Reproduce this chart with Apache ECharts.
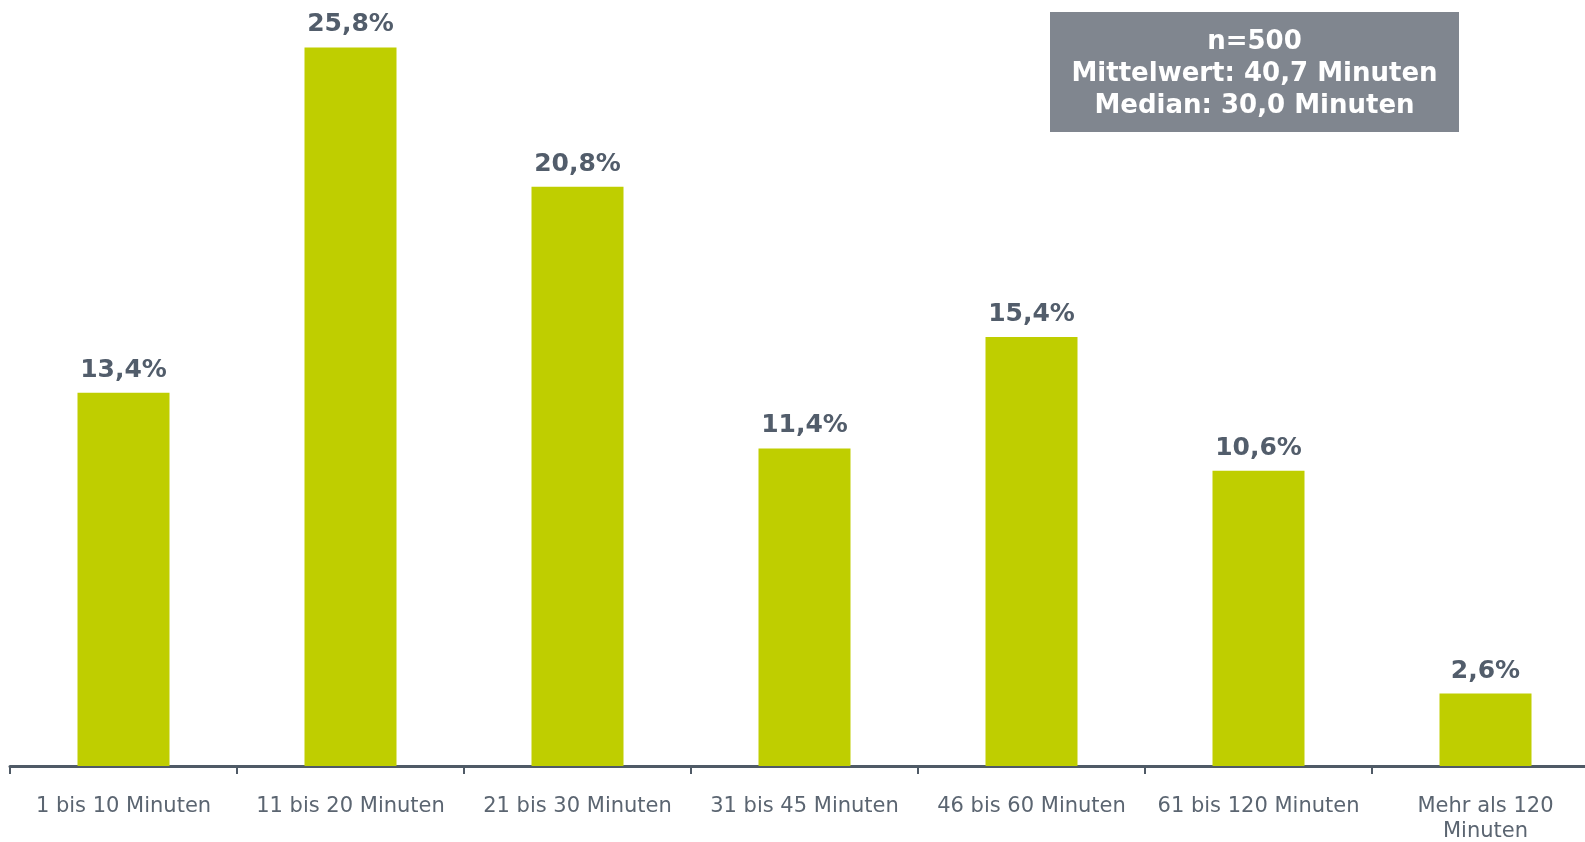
<!DOCTYPE html>
<html>
<head>
<meta charset="utf-8">
<script src="https://cdn.jsdelivr.net/npm/echarts@6/dist/echarts.min.js"></script>
<style>
  html, body { margin: 0; padding: 0; background: #fff; }
  #chart { width: 1585px; height: 842px; }
</style>
</head>
<body>
<div id="chart"></div>
<script>
// Dauer-Kategorien und Anteile in Prozent
var categories = ['1 bis 10 Minuten', '11 bis 20 Minuten', '21 bis 30 Minuten', '31 bis 45 Minuten',
  '46 bis 60 Minuten', '61 bis 120 Minuten', 'Mehr als 120\nMinuten'];
var shares = [13.4, 25.8, 20.8, 11.4, 15.4, 10.6, 2.6];
var infoLines = ['n=500', 'Mittelwert: 40,7 Minuten', 'Median: 30,0 Minuten'];

var myChart = echarts.init(document.getElementById('chart'));

var option = {
  animation: false,
  grid: { left: 10, width: 1589, top: 14, bottom: 76, containLabel: false, outerBoundsMode: 'none' },
  xAxis: {
    type: 'category',
    data: categories,
    axisLine: { lineStyle: { color: '#4f5a66', width: 3 } },
    axisTick: { show: true, length: 8, lineStyle: { color: '#4f5a66', width: 2 } },
    axisLabel: {
      margin: 28,
      interval: 0,
      color: '#5b6571',
      fontSize: 21,
      lineHeight: 25,
      fontFamily: 'DejaVu Sans'
    }
  },
  yAxis: {
    type: 'value',
    min: 0,
    max: 27,
    show: false,
    splitLine: { show: false }
  },
  series: [{
    type: 'bar',
    data: shares,
    barWidth: 92,
    itemStyle: { color: '#bfce00' },
    label: {
      show: true,
      position: 'top',
      distance: 10,
      color: '#525d6b',
      fontSize: 25,
      fontWeight: 'bold',
      fontFamily: 'DejaVu Sans',
      formatter: function (p) { return p.value.toFixed(1).replace('.', ',') + '%'; }
    }
  }],
  graphic: [{
    type: 'group',
    left: 1050,
    top: 12,
    children: [{
      type: 'rect',
      shape: { x: 0, y: 0, width: 409, height: 120 },
      style: { fill: '#80868f' }
    }, {
      type: 'text',
      x: 204.5,
      y: 62,
      style: {
        text: infoLines.join('\n'),
        fill: '#ffffff',
        font: 'bold 26px "DejaVu Sans"',
        lineHeight: 32,
        align: 'center',
        verticalAlign: 'middle'
      }
    }]
  }]
};
myChart.setOption(option);
</script>
</body>
</html>
